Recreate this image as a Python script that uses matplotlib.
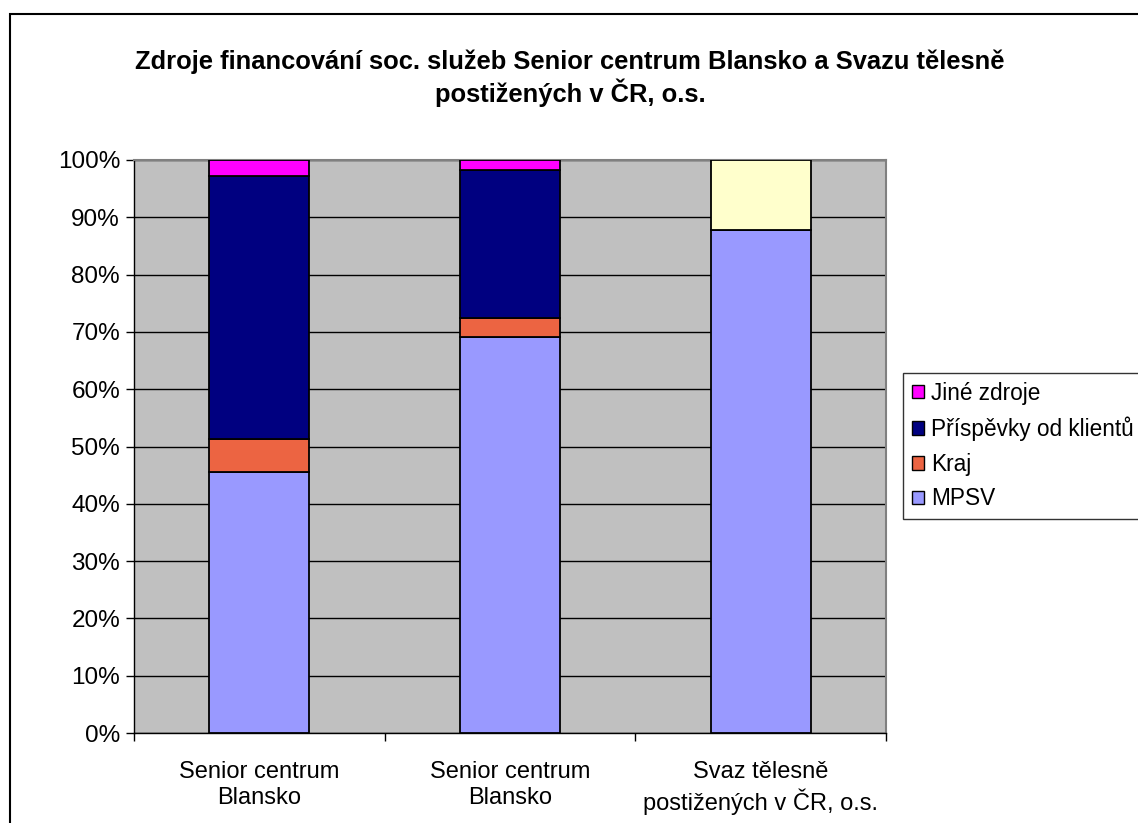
import matplotlib
matplotlib.use("Agg")
import matplotlib.pyplot as plt
from matplotlib.patches import Rectangle, Patch
import numpy as np

plt.rcParams['font.family'] = ['Liberation Sans', 'DejaVu Sans']

categories = ["Senior centrum\nBlansko", "Senior centrum\nBlansko",
              "Svaz tělesně\npostižených v ČR, o.s."]
series_names = ["MPSV", "Kraj", "Příspěvky od klientů", "Jiné zdroje"]
mpsv = [45.5, 69.1, 87.8]
kraj = [5.8, 3.3, 0.0]
prispevky = [45.9, 25.9, 0.0]
jine = [2.8, 1.7, 12.2]
series_values = [mpsv, kraj, prispevky, jine]
colors = ["#9999FF", "#EC6442", "#000080", "#FF00FF"]
jine_point_colors = ["#FF00FF", "#FF00FF", "#FFFFCC"]
yticklabels = [f"{v}%" for v in range(0, 101, 10)]

fig = plt.figure(figsize=(11.38, 8.23), dpi=100)
W, H = 1138, 823
ax = fig.add_axes([134 / W, 1 - 733 / H, (886 - 134) / W, (733 - 160) / H])
ax.set_facecolor("#C0C0C0")

x = np.arange(len(categories))
bottom = np.zeros(len(categories))
for name, vals, col in zip(series_names, series_values, colors):
    fc = jine_point_colors if name == "Jiné zdroje" else col
    ax.bar(x, vals, width=0.4, bottom=bottom, color=fc, edgecolor="black",
           linewidth=1.3, zorder=3)
    bottom += np.array(vals)

ax.set_xlim(-0.5, len(categories) - 0.5)
ax.set_ylim(0, 100)
ax.set_yticks(range(0, 101, 10))
ax.set_yticklabels(yticklabels, fontsize=17.5)
ax.set_xticks(x)
ax.set_xticklabels(categories, fontsize=17, linespacing=1.25)
ax.tick_params(axis='x', length=0, pad=20)
ax.set_xticks(np.arange(-0.5, len(categories), 1), minor=True)
ax.tick_params(axis='x', which='minor', length=6, width=1, direction='out')
ax.tick_params(axis='y', length=6, width=1, direction='out', pad=4)
ax.yaxis.grid(True, color="black", linewidth=1, zorder=1)
ax.set_axisbelow(True)
for s in ["top", "right"]:
    ax.spines[s].set_color("#808080")
    ax.spines[s].set_linewidth(1.5)
for s in ["left", "bottom"]:
    ax.spines[s].set_color("black")
    ax.spines[s].set_linewidth(1)

fig.text(570 / W, 1 - 62 / H, "Zdroje financování soc. služeb Senior centrum Blansko a Svazu tělesně",
         ha="center", va="center", fontsize=18.4, fontweight="bold")
fig.text(570 / W, 1 - 93 / H, "postižených v ČR, o.s.",
         ha="center", va="center", fontsize=18.4, fontweight="bold")

handles = [Patch(facecolor=c, edgecolor="black", linewidth=1) for c in colors][::-1]
labels = series_names[::-1]
leg = fig.legend(handles, labels, loc="upper left",
                 bbox_to_anchor=(903 / W, 1 - 373 / H), fontsize=16.3,
                 frameon=True, fancybox=False, edgecolor="black",
                 handlelength=0.55, handleheight=0.55, handletextpad=0.3,
                 labelspacing=0.52, borderpad=0.38, borderaxespad=0)
leg.get_frame().set_linewidth(1)

fig.patches.append(Rectangle((10 / W, -0.05), 1.2, 1 - 14 / H + 0.05,
                             transform=fig.transFigure, fill=False,
                             edgecolor="black", linewidth=1.5, zorder=0))

fig.savefig("out.png", dpi=100)
